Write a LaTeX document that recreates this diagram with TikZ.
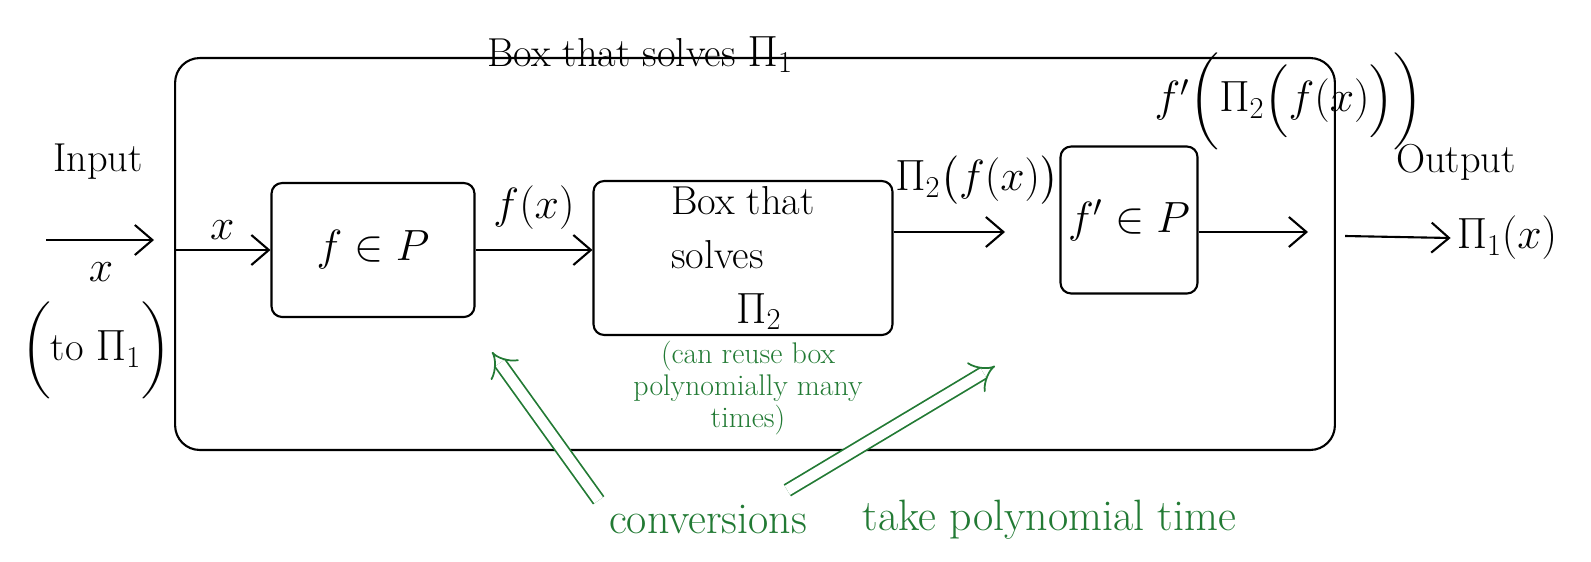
\documentclass[tikz,border=0pt]{standalone}
\usepackage{amsmath}
\usepackage{amssymb}
\usetikzlibrary{arrows.meta}
\usetikzlibrary{positioning}

\definecolor{inkgreen}{RGB}{34,122,52}

\begin{document}
\begin{tikzpicture}[x=0.02cm,y=-0.02cm,
    box/.style={draw,line width=1.2pt,rounded corners=6pt,inner sep=0pt},
    flow/.style={line width=1.2pt,-{Straight Barb[length=3.5mm,width=6mm]}},
    hand/.style={font=\fontsize{23}{31}\selectfont},
    big/.style={font=\fontsize{27}{31}\selectfont},
    note/.style={text=inkgreen,align=center,inner sep=0pt,font=\fontsize{17}{18}\selectfont},
    hint/.style={draw=inkgreen,line width=1pt,double distance=6pt,-{Implies[length=6mm,width=11mm]}}]
    \useasboundingbox (0,0) rectangle (1591,561);

    % the solver for Pi_1, built around the one for Pi_2
    \node[box,rounded corners=14pt,minimum width=23.2cm,minimum height=7.84cm] (outer) at (755,254) {};
    \node[hand,anchor=base] (outertitle) at (640,66) {Box that solves $\Pi_1$};

    \node[box,big,minimum width=4.06cm,minimum height=2.68cm] (fbox) at (373,250) {$f\in P$};
    \node[box,hand,align=left,minimum width=5.98cm,minimum height=3.08cm] (pibox) at (743,258)
        {Box that\\solves\\\hspace{1.3cm}$\Pi_2$};
    \node[box,big,minimum width=2.74cm,minimum height=2.94cm] (gbox) at (1129,220) {$f'\in P$};

    % input side
    \coordinate (in) at (46,240);
    \coordinate (inend) at (154,240);
    \node[hand] (inlabel) at (98,162) {Input};
    \node[hand] (inx) at (101,272) {$x$};
    \node[hand] (inwhich) at (96,350) {$\biggl($to $\Pi_1\biggr)$};
    \draw[flow] (in) -- (inend);

    % through the boxes
    \draw[flow] (outer.west |- fbox.west) -- (fbox.west) node[midway,above=2pt,hand] (xlabel) {$x$};
    \draw[flow] (fbox.east) -- (pibox.west |- fbox.east) node[midway,above=8pt,hand] (fxlabel) {$f(x)$};
    \coordinate (gin) at (1005,232);
    \draw[flow] (pibox.east |- gin) -- (gin);
    \node[hand] (pilabel) at (977,180) {$\Pi_2\bigl(f(x)\bigr)$};
    \coordinate (gout) at (1308,232);
    \draw[flow] (gbox.east |- gout) -- (gout);
    \node[hand] (gxlabel) at (1289,101) {$f'\biggl(\Pi_2\Bigl(f(x)\Bigr)\biggr)$};

    % output side
    \coordinate (outstart) at (1345,236);
    \node[hand] (result) at (1507,238) {$\Pi_1(x)$};
    \node[hand] (outlabel) at (1456,162) {Output};
    \draw[flow] (outstart) -- (result.west);

    % notes in green
    \node[note] (reuse) at (748,388) {(can reuse box\\polynomially many\\times)};
    \node[note,font=\fontsize{25}{28}\selectfont] (conv) at (708,520) {conversions};
    \node[note,font=\fontsize{25}{28}\selectfont,right=1.1cm of conv] (convrest) {take polynomial time};
    \coordinate (fhint) at (492,352);
    \coordinate (ghint) at (995,366);
    \draw[hint] ([shift={(-0.2cm,0.1cm)}]conv.north west) -- (fhint);
    \draw[hint] ([shift={(-0.4cm,0.3cm)}]conv.north east) -- (ghint);
\end{tikzpicture}
\end{document}
